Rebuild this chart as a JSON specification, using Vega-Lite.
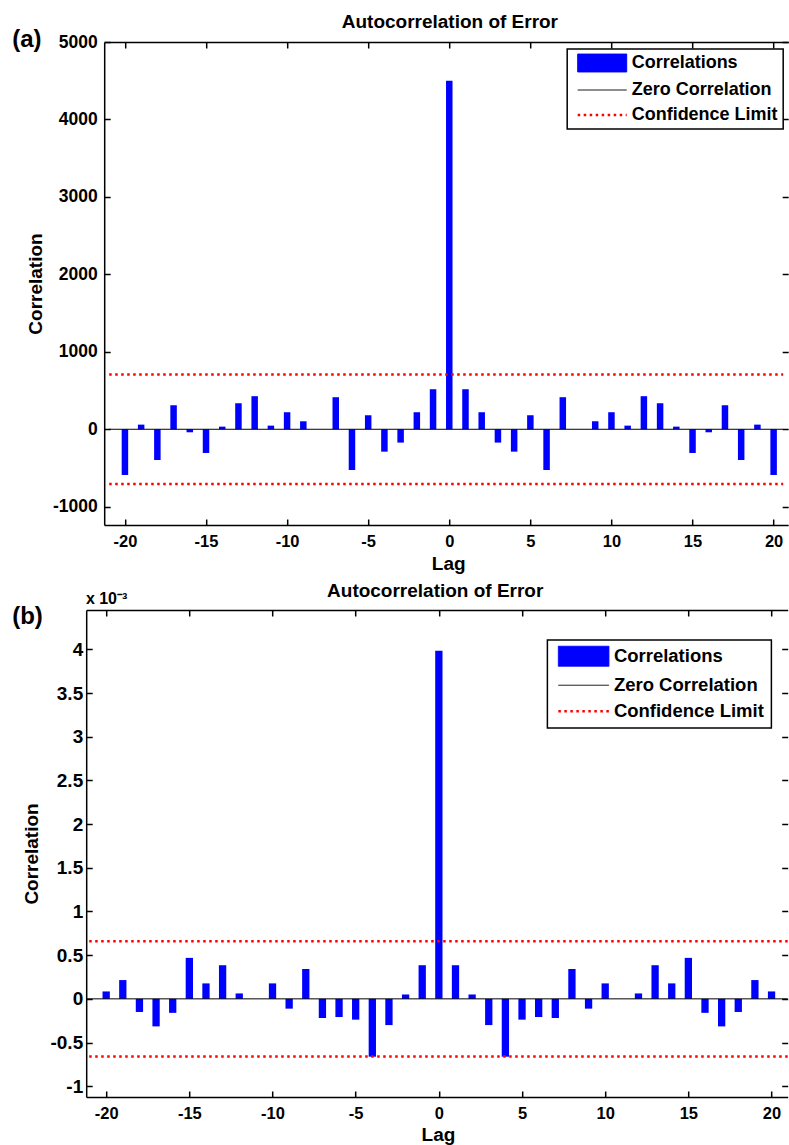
{
  "$schema": "https://vega.github.io/schema/vega-lite/v6.json",
  "padding": {"left": 11.2, "top": 12, "right": 0, "bottom": 0},
  "background": "white",
  "spacing": 8,
  "config": {
    "view": {"stroke": null},
    "font": "Liberation Sans",
    "axis": {
      "grid": false,
      "labelFont": "Liberation Sans",
      "labelFontWeight": "bold",
      "labelColor": "black",
      "titleFont": "Liberation Sans",
      "titleFontWeight": "bold",
      "titleColor": "black",
      "domainColor": "black",
      "domainWidth": 1.5,
      "tickColor": "black",
      "tickWidth": 1.5,
      "tickSize": -6
    }
  },
  "datasets": {
    "acfA": [
      {"lag": -20, "corr": -590}, {"lag": -19, "corr": 60}, {"lag": -18, "corr": -397}, {"lag": -17, "corr": 310},
      {"lag": -16, "corr": -39}, {"lag": -15, "corr": -306}, {"lag": -14, "corr": 34}, {"lag": -13, "corr": 336},
      {"lag": -12, "corr": 427}, {"lag": -11, "corr": 47}, {"lag": -10, "corr": 220}, {"lag": -9, "corr": 103},
      {"lag": -8, "corr": 0}, {"lag": -7, "corr": 414}, {"lag": -6, "corr": -526}, {"lag": -5, "corr": 181},
      {"lag": -4, "corr": -289}, {"lag": -3, "corr": -172}, {"lag": -2, "corr": 220}, {"lag": -1, "corr": 517},
      {"lag": 0, "corr": 4500},
      {"lag": 1, "corr": 517}, {"lag": 2, "corr": 220}, {"lag": 3, "corr": -172}, {"lag": 4, "corr": -289},
      {"lag": 5, "corr": 181}, {"lag": 6, "corr": -526}, {"lag": 7, "corr": 414}, {"lag": 8, "corr": 0},
      {"lag": 9, "corr": 103}, {"lag": 10, "corr": 220}, {"lag": 11, "corr": 47}, {"lag": 12, "corr": 427},
      {"lag": 13, "corr": 336}, {"lag": 14, "corr": 34}, {"lag": 15, "corr": -306}, {"lag": 16, "corr": -39},
      {"lag": 17, "corr": 310}, {"lag": 18, "corr": -397}, {"lag": 19, "corr": 60}, {"lag": 20, "corr": -590}
    ],
    "acfB": [
      {"lag": -20, "corr": 0.000085}, {"lag": -19, "corr": 0.000215}, {"lag": -18, "corr": -0.00015}, {"lag": -17, "corr": -0.000315},
      {"lag": -16, "corr": -0.00016}, {"lag": -15, "corr": 0.000469}, {"lag": -14, "corr": 0.000177}, {"lag": -13, "corr": 0.000385},
      {"lag": -12, "corr": 0.000062}, {"lag": -11, "corr": 0}, {"lag": -10, "corr": 0.000177}, {"lag": -9, "corr": -0.000112},
      {"lag": -8, "corr": 0.000342}, {"lag": -7, "corr": -0.000219}, {"lag": -6, "corr": -0.000208}, {"lag": -5, "corr": -0.000238},
      {"lag": -4, "corr": -0.000662}, {"lag": -3, "corr": -0.0003}, {"lag": -2, "corr": 0.00005}, {"lag": -1, "corr": 0.000385},
      {"lag": 0, "corr": 0.003984},
      {"lag": 1, "corr": 0.000385}, {"lag": 2, "corr": 0.00005}, {"lag": 3, "corr": -0.0003}, {"lag": 4, "corr": -0.000662},
      {"lag": 5, "corr": -0.000238}, {"lag": 6, "corr": -0.000208}, {"lag": 7, "corr": -0.000219}, {"lag": 8, "corr": 0.000342},
      {"lag": 9, "corr": -0.000112}, {"lag": 10, "corr": 0.000177}, {"lag": 11, "corr": 0}, {"lag": 12, "corr": 0.000062},
      {"lag": 13, "corr": 0.000385}, {"lag": 14, "corr": 0.000177}, {"lag": 15, "corr": 0.000469}, {"lag": 16, "corr": -0.00016},
      {"lag": 17, "corr": -0.000315}, {"lag": 18, "corr": -0.00015}, {"lag": 19, "corr": 0.000215}, {"lag": 20, "corr": 0.000085}
    ],
    "zero": [{"level": 0}],
    "limA": [{"limit": 708}, {"limit": -708}],
    "limB": [{"limit": 0.00066}, {"limit": -0.00066}]
  },
  "resolve": {"scale": {"color": "independent"}, "legend": {"color": "independent"}},
  "vconcat": [
    {
      "width": 702,
      "height": 483,
      "resolve": {"axis": {"x": "independent", "y": "independent"}},
      "layer": [
        {
          "data": {"name": "acfA"},
          "mark": {"type": "bar", "width": 6.5},
          "encoding": {
            "x": {
              "field": "lag", "type": "quantitative",
              "scale": {"domain": [-20.97, 20.59], "range": [18, 702], "nice": false, "zero": false},
              "axis": {
                "orient": "bottom", "values": [-20, -15, -10, -5, 0, 5, 10, 15, 20],
                "labelExpr": "'' + datum.value", "labelFontSize": 16.5, "labelBaseline": "alphabetic", "labelPadding": 27,
                "title": "Lag", "titleFontSize": 19, "titleBaseline": "alphabetic", "titleX": 362, "titleY": 44
              }
            },
            "y": {
              "field": "corr", "type": "quantitative",
              "scale": {"domain": [-1236, 5000], "nice": false, "zero": false},
              "axis": {
                "orient": "left", "offset": -18, "values": [-1000, 0, 1000, 2000, 3000, 4000, 5000],
                "labelExpr": "'' + datum.value", "labelFontSize": 17.5, "labelPadding": 13,
                "title": "Correlation", "titleFontSize": 19, "titleBaseline": "alphabetic", "titleX": -62.5
              }
            },
            "color": {
              "datum": "Correlations",
              "scale": {"domain": ["Correlations", "Zero Correlation", "Confidence Limit"], "range": ["#0000ff", "#000000", "#ff0000"]},
              "legend": {
                "title": null, "orient": "none", "legendX": 481, "legendY": 7, "direction": "vertical",
                "strokeColor": "black", "fillColor": "white", "padding": 5, "rowPadding": 7,
                "symbolOffset": 21, "labelOffset": 20.5, "symbolSize": 2401,
                "labelFont": "Liberation Sans", "labelFontWeight": "bold", "labelFontSize": 18, "labelColor": "black", "labelLimit": 400,
                "labelExpr": "datum.label + '\u00a0'",
                "encode": {
                  "legend": {"update": {"strokeWidth": {"value": 1.5}}},
                  "symbols": {"update": {
                    "shape": {"signal": "datum.value === 'Correlations' ? 'M-1,-0.367H1V0.367H-1Z' : 'M-1,0H1'"},
                    "fill": {"signal": "datum.value === 'Correlations' ? '#0000ff' : 'transparent'"},
                    "stroke": {"signal": "datum.value === 'Zero Correlation' ? '#000000' : (datum.value === 'Confidence Limit' ? '#ff0000' : 'transparent')"},
                    "strokeWidth": {"signal": "datum.value === 'Confidence Limit' ? 2.5 : 1"},
                    "strokeDash": {"signal": "datum.value === 'Confidence Limit' ? [2.5, 3.5] : [1, 0]"},
                    "opacity": {"value": 1}, "fillOpacity": {"value": 1}, "strokeOpacity": {"value": 1}
                  }}
                }
              }
            }
          }
        },
        {
          "data": {"name": "acfA"},
          "mark": {"type": "point", "opacity": 0},
          "encoding": {
            "x": {
              "field": "lag", "type": "quantitative",
              "axis": {
                "orient": "top", "values": [-20, -15, -10, -5, 0, 5, 10, 15, 20], "labels": false,
                "title": "Autocorrelation of Error", "titleFontSize": 19, "titleBaseline": "alphabetic", "titleX": 363.2, "titleY": -14.7
              }
            },
            "y": {
              "field": "corr", "type": "quantitative",
              "axis": {
                "orient": "right", "values": [-1000, 0, 1000, 2000, 3000, 4000, 5000], "labels": false, "domain": false,
                "title": "(a)", "titleFontSize": 24, "titleAngle": 0, "titleAlign": "left", "titleBaseline": "alphabetic", "titleX": -776.5, "titleY": 4.5
              }
            }
          }
        },
        {
          "data": {"name": "zero"},
          "mark": {"type": "rule", "strokeWidth": 1},
          "encoding": {
            "x": {"datum": -20.97, "type": "quantitative", "axis": null},
            "x2": {"datum": 20.59},
            "y": {"field": "level", "type": "quantitative", "axis": null},
            "color": {"datum": "Zero Correlation"}
          }
        },
        {
          "data": {"name": "limA"},
          "mark": {"type": "rule", "strokeWidth": 2.5, "strokeDash": [2.5, 3.5]},
          "encoding": {
            "x": {"datum": -20.97, "type": "quantitative", "axis": null},
            "x2": {"datum": 20.59},
            "y": {"field": "limit", "type": "quantitative", "axis": null},
            "color": {"datum": "Confidence Limit"}
          }
        }
      ]
    },
    {
      "width": 701.5,
      "height": 487,
      "resolve": {"axis": {"x": "independent", "y": "independent"}},
      "layer": [
        {
          "data": {"name": "acfB"},
          "mark": {"type": "bar", "width": 7.3},
          "encoding": {
            "x": {
              "field": "lag", "type": "quantitative",
              "scale": {"domain": [-20.9, 20.67], "nice": false, "zero": false},
              "axis": {
                "orient": "bottom", "values": [-20, -15, -10, -5, 0, 5, 10, 15, 20],
                "labelExpr": "'' + datum.value", "labelFontSize": 16.5, "labelBaseline": "alphabetic", "labelPadding": 28,
                "title": "Lag", "titleFontSize": 19, "titleBaseline": "alphabetic", "titleX": 351.8, "titleY": 43.5
              }
            },
            "y": {
              "field": "corr", "type": "quantitative",
              "scale": {"domain": [-0.001123, 0.00445], "nice": false, "zero": false},
              "axis": {
                "orient": "left", "values": [-0.001, -0.0005, 0, 0.0005, 0.001, 0.0015, 0.002, 0.0025, 0.003, 0.0035, 0.004],
                "labelExpr": "'' + round(datum.value * 10000) / 10", "labelFontSize": 19, "labelPadding": 9.5,
                "title": "Correlation", "titleFontSize": 19, "titleBaseline": "alphabetic", "titleX": -48.2
              }
            },
            "color": {
              "datum": "Correlations",
              "scale": {"domain": ["Correlations", "Zero Correlation", "Confidence Limit"], "range": ["#0000ff", "#000000", "#ff0000"]},
              "legend": {
                "title": null, "orient": "none", "legendX": 461.2, "legendY": 30, "direction": "vertical",
                "strokeColor": "black", "fillColor": "white", "padding": 7, "rowPadding": 7,
                "symbolOffset": 20, "labelOffset": 21, "symbolSize": 2560,
                "labelFont": "Liberation Sans", "labelFontWeight": "bold", "labelFontSize": 18.5, "labelColor": "black", "labelLimit": 400,
                "labelExpr": "datum.label + '\u00a0\u00a0\u00a0'",
                "encode": {
                  "legend": {"update": {"strokeWidth": {"value": 1.5}}},
                  "symbols": {"update": {
                    "shape": {"signal": "datum.value === 'Correlations' ? 'M-1,-0.395H1V0.395H-1Z' : 'M-1,0H1'"},
                    "fill": {"signal": "datum.value === 'Correlations' ? '#0000ff' : 'transparent'"},
                    "stroke": {"signal": "datum.value === 'Zero Correlation' ? '#000000' : (datum.value === 'Confidence Limit' ? '#ff0000' : 'transparent')"},
                    "strokeWidth": {"signal": "datum.value === 'Confidence Limit' ? 2.5 : 1"},
                    "strokeDash": {"signal": "datum.value === 'Confidence Limit' ? [2.5, 3.5] : [1, 0]"},
                    "opacity": {"value": 1}, "fillOpacity": {"value": 1}, "strokeOpacity": {"value": 1}
                  }}
                }
              }
            }
          }
        },
        {
          "data": {"name": "acfB"},
          "mark": {"type": "point", "opacity": 0},
          "encoding": {
            "x": {
              "field": "lag", "type": "quantitative",
              "axis": {
                "orient": "top", "values": [-20, -15, -10, -5, 0, 5, 10, 15, 20], "labels": false,
                "title": "Autocorrelation of Error", "titleFontSize": 19, "titleBaseline": "alphabetic", "titleX": 348.5, "titleY": -13.5
              }
            },
            "y": {
              "field": "corr", "type": "quantitative",
              "axis": {
                "orient": "right", "values": [-0.001, -0.0005, 0, 0.0005, 0.001, 0.0015, 0.002, 0.0025, 0.003, 0.0035, 0.004], "labels": false, "domain": false,
                "title": "(b)", "titleFontSize": 24, "titleAngle": 0, "titleAlign": "left", "titleBaseline": "alphabetic", "titleX": -776, "titleY": 13.5
              }
            }
          }
        },
        {
          "data": {"name": "zero"},
          "mark": {"type": "rule", "strokeWidth": 1},
          "encoding": {
            "y": {
              "field": "level", "type": "quantitative",
              "axis": {
                "orient": "right", "domain": false, "ticks": false, "labels": false,
                "title": "x 10⁻³", "titleFontSize": 16, "titleAngle": 0, "titleAlign": "left", "titleBaseline": "alphabetic", "titleX": -702.3, "titleY": -6.7
              }
            },
            "color": {"datum": "Zero Correlation"}
          }
        },
        {
          "data": {"name": "limB"},
          "mark": {"type": "rule", "strokeWidth": 2.5, "strokeDash": [2.5, 3.5]},
          "encoding": {
            "y": {"field": "limit", "type": "quantitative", "axis": null},
            "color": {"datum": "Confidence Limit"}
          }
        }
      ]
    }
  ]
}
